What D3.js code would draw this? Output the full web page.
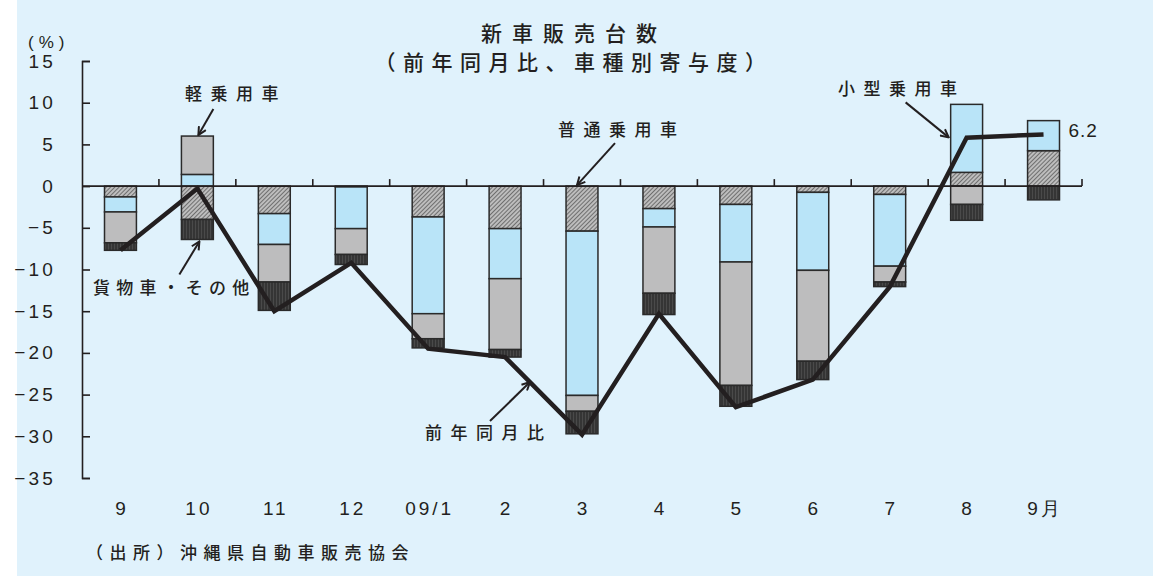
<!DOCTYPE html>
<html>
<head>
<meta charset="utf-8">
<script src="https://cdn.jsdelivr.net/npm/d3@7"></script>
<style>
  html, body { margin: 0; padding: 0; background: #ffffff; }
  svg { display: block; }
  .jp { font-family: "Noto Sans CJK JP", "Noto Sans", sans-serif; font-weight: 500; fill: #231f20; }
  .num { font-family: "Liberation Sans", Arial, sans-serif; fill: #231f20; }
</style>
</head>
<body>
<svg id="chart" width="1153" height="576"></svg>
<script>
// ---- data ----
const categories = ["9", "10", "11", "12", "09/1", "2", "3", "4", "5", "6", "7", "8", "9月"];
const seriesNames = ["普通乗用車", "小型乗用車", "軽乗用車", "貨物車・その他"];
const futsu   = [-1.3, -4.0, -3.3, -0.1, -3.7, -5.1, -5.4, -2.7, -2.2, -0.75, -1.0, 1.65, 4.25];
const kogata  = [-1.8, 1.4, -3.7, -5.0, -11.6, -6.0, -19.7, -2.2, -6.9, -9.35, -8.6, 8.15, 3.6];
const kei     = [-3.7, 4.6, -4.5, -3.1, -3.0, -8.5, -1.9, -7.95, -14.8, -10.9, -1.9, -2.2, 0];
const kamotsu = [-0.9, -2.4, -3.4, -1.2, -1.1, -0.9, -2.7, -2.55, -2.5, -2.2, -0.55, -1.9, -1.65];
const total   = [-7.7, -0.3, -15.0, -9.2, -19.5, -20.5, -29.8, -15.3, -26.5, -23.2, -12.1, 5.8, 6.2];
const yTicks  = [15, 10, 5, 0, -5, -10, -15, -20, -25, -30, -35];

const svg = d3.select("#chart");
const ink = "#231f20";

// background panel
svg.append("rect").attr("x", 17).attr("y", 0).attr("width", 1136).attr("height", 576).attr("fill", "#e0f2fc");

// patterns
const defs = svg.append("defs");
const hatch = defs.append("pattern").attr("id", "hatch").attr("patternUnits", "userSpaceOnUse")
  .attr("width", 3).attr("height", 3).attr("patternTransform", "rotate(45)");
hatch.append("rect").attr("width", 3).attr("height", 3).attr("fill", "#bdbdbd");
hatch.append("line").attr("x1", 0).attr("y1", 0).attr("x2", 0).attr("y2", 3).attr("stroke", "#4d4d4d").attr("stroke-width", 1.4);
const darkp = defs.append("pattern").attr("id", "darkp").attr("patternUnits", "userSpaceOnUse")
  .attr("width", 3).attr("height", 3);
darkp.append("rect").attr("width", 3).attr("height", 3).attr("fill", "#353535");
darkp.append("line").attr("x1", 0.5).attr("y1", 0).attr("x2", 0.5).attr("y2", 3).attr("stroke", "#4a4a4a").attr("stroke-width", 1);

const marker = defs.append("marker").attr("id", "arrow").attr("viewBox", "0 0 10 10")
  .attr("refX", 9).attr("refY", 5).attr("markerWidth", 5).attr("markerHeight", 5)
  .attr("orient", "auto").attr("markerUnits", "strokeWidth");
marker.append("path").attr("d", "M1,1 L9,5 L1,9").attr("fill", "none").attr("stroke", ink).attr("stroke-width", 2);

const fills = ["url(#hatch)", "#b9e4f8", "#bdbdbe", "url(#darkp)"];

// scales
const x = d3.scaleBand().domain(categories).range([82, 1082]).paddingInner(0.585).paddingOuter(0.2925);
const y = d3.scaleLinear().domain([-35, 15]).range([478, 61]);

// stacked data
const rows = categories.map((c, i) => ({ cat: c, s0: futsu[i], s1: kogata[i], s2: kei[i], s3: kamotsu[i] }));
const stack = d3.stack().keys(["s0", "s1", "s2", "s3"]).offset(d3.stackOffsetDiverging);
const layers = stack(rows);

const gBars = svg.append("g");
layers.forEach((layer, li) => {
  gBars.selectAll(null).data(layer.filter(d => Math.abs(d[1] - d[0]) > 1e-9)).enter().append("rect")
    .attr("x", d => x(d.data.cat))
    .attr("width", x.bandwidth())
    .attr("y", d => y(Math.max(d[0], d[1])))
    .attr("height", d => Math.abs(y(d[0]) - y(d[1])))
    .attr("fill", fills[li])
    .attr("stroke", "#2a2a2a").attr("stroke-width", 1.5);
});

// y axis
const yAxis = d3.axisLeft(y).tickValues(yTicks).tickSizeInner(-8).tickSizeOuter(-8).tickPadding(26)
  .tickFormat(d => d < 0 ? "−" + Math.abs(d) : String(d));
const gy = svg.append("g").attr("transform", "translate(82,0)").call(yAxis);
gy.selectAll("path, line").attr("stroke", ink).attr("stroke-width", 1.6);
gy.selectAll("text").attr("class", "num").attr("font-size", 19).attr("letter-spacing", 3.2).attr("fill", ink);

// x axis (zero line with boundary ticks)
const bounds = d3.range(categories.length + 1).map(i => x.range()[0] + i * x.step());
svg.append("line").attr("x1", bounds[0]).attr("x2", bounds[bounds.length - 1])
  .attr("y1", y(0)).attr("y2", y(0)).attr("stroke", ink).attr("stroke-width", 1.6);
svg.selectAll(null).data(bounds.slice(1)).enter().append("line")
  .attr("x1", d => d).attr("x2", d => d).attr("y1", y(0)).attr("y2", y(0) - 7)
  .attr("stroke", ink).attr("stroke-width", 1.6);

// x labels
svg.selectAll(null).data(categories).enter().append("text")
  .attr("class", "num")
  .attr("x", d => x(d) + x.bandwidth() / 2 + 1.5)
  .attr("y", 515)
  .attr("text-anchor", "middle")
  .attr("font-size", 19).attr("letter-spacing", 3)
  .text(d => d);

// total line
const line = d3.line().x((d, i) => x(categories[i]) + x.bandwidth() / 2).y(d => y(d));
svg.append("path").datum(total).attr("d", line).attr("fill", "none")
  .attr("stroke", ink).attr("stroke-width", 4.5).attr("stroke-linejoin", "miter");

// value label
const last = total.length - 1;
svg.append("text").attr("class", "num").attr("x", x(categories[last]) + x.bandwidth() + 9)
  .attr("y", y(total[last]) + 3).attr("font-size", 19).attr("letter-spacing", 1)
  .text(total[last].toFixed(1));

// y unit
svg.append("text").attr("class", "num").attr("x", 28).attr("y", 48).attr("font-size", 17)
  .attr("letter-spacing", 5).text("(%)");

// title
const title = svg.append("g").attr("class", "jp");
title.append("text").attr("x", 574).attr("y", 41).attr("text-anchor", "middle")
  .attr("font-size", 21).attr("letter-spacing", 10).text("新車販売台数");
title.append("text").attr("x", 574).attr("y", 70).attr("text-anchor", "middle")
  .attr("font-size", 21).attr("letter-spacing", 7.5).text("（前年同月比、車種別寄与度）");

// source
svg.append("text").attr("class", "jp").attr("x", 86).attr("y", 559).attr("font-size", 17)
  .attr("letter-spacing", 6.5).text("（出所）沖縄県自動車販売協会");

// annotations (anchored to data via scales)
const cx = c => x(c) + x.bandwidth() / 2;
const ann = [
  { text: seriesNames[2], tx: 185, ty: 100, x1: cx("10") + 16, y1: y(6.0) - 27, x2: cx("10") + 1, y2: y(6.0) - 1, ls: 8.5 },
  { text: seriesNames[3], tx: 93, ty: 294, x1: cx("10") - 18, y1: y(-6.4) + 35, x2: cx("10") + 2, y2: y(-6.4) + 2, ls: 6.2 },
  { text: seriesNames[0], tx: 558, ty: 136, x1: cx("3") + 33, y1: y(0) - 43, x2: cx("3") - 5, y2: y(0) - 1, ls: 8.5 },
  { text: seriesNames[1], tx: 838, ty: 95, x1: cx("8") - 61, y1: y(9.8) - 2, x2: x("8") - 2, y2: y(9.8) + 33, ls: 8.5 },
  { text: "前年同月比", tx: 425, ty: 439, x1: 490, y1: y(total[5]) + 64, x2: 530, y2: y(total[5]) + 25, ls: 8.5 }
];
ann.forEach(a => {
  svg.append("line").attr("x1", a.x1).attr("y1", a.y1).attr("x2", a.x2).attr("y2", a.y2)
    .attr("stroke", ink).attr("stroke-width", 2).attr("marker-end", "url(#arrow)");
  svg.append("text").attr("class", "jp").attr("x", a.tx).attr("y", a.ty).attr("font-size", 17)
    .attr("letter-spacing", a.ls).text(a.text);
});
</script>
</body>
</html>
